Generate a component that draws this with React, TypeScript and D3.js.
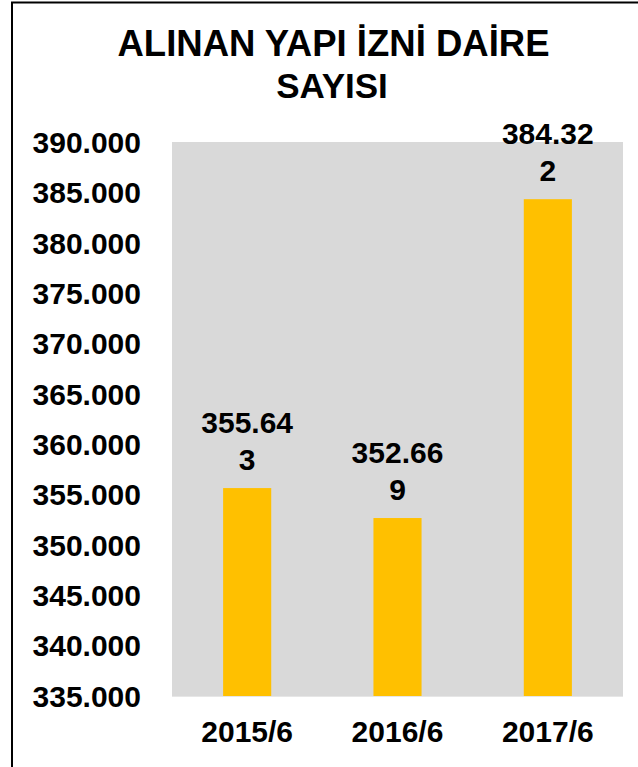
import React from "react";
import * as d3 from "d3";

const categories = ["2015/6", "2016/6", "2017/6"];
const values = [355643, 352669, 384322];
const yTicks = [335000, 340000, 345000, 350000, 355000, 360000, 365000, 370000, 375000, 380000, 385000, 390000];
const titleLines = ["ALINAN YAPI İZNİ DAİRE", "SAYISI"];

const W = 638;
const H = 767;
const FONT = "'Liberation Sans', Arial, Helvetica, sans-serif";

const trLocale = d3.formatLocale({ decimal: ",", thousands: ".", grouping: [3], currency: ["", "₺"] });
const fmt = trLocale.format(",d");

export default function App() {
  const x = d3.scaleBand<string>().domain(categories).range([172, 623]).paddingInner(0.68).paddingOuter(0.34);
  const y = d3.scaleLinear().domain([335000, 390000]).range([696, 142]);

  return (
    <svg width={W} height={H} style={{ position: "absolute", left: 0, top: 0, background: "#fff" }}>
      <rect x={12} y={2.5} width={800} height={900} fill="#fff" stroke="#000" strokeWidth={2} />
      {/* title */}
      <text fontFamily={FONT} fontWeight="bold" textAnchor="middle" fill="#000">
        <tspan x={333.5} y={56} fontSize={36.5}>{titleLines[0]}</tspan>
        <tspan x={332} y={98} fontSize={35}>{titleLines[1]}</tspan>
      </text>
      {/* plot area */}
      <rect x={172} y={142} width={451} height={554} fill="#d9d9d9" />
      <line x1={172} x2={623} y1={696.5} y2={696.5} stroke="#e6e6e6" strokeWidth={1} />
      {/* y ticks */}
      {yTicks.map((t) => (
        <text key={t} x={141} y={y(t)} dy="0.36em" textAnchor="end" fontFamily={FONT} fontWeight="bold" fontSize={30} fill="#000">
          {fmt(t)}
        </text>
      ))}
      {/* bars */}
      {categories.map((c, i) => (
        <rect key={c} x={x(c)} y={y(values[i])} width={x.bandwidth()} height={y(335000) - y(values[i])} fill="#FFC000" />
      ))}
      {/* data labels */}
      {categories.map((c, i) => {
        const s = fmt(values[i]);
        const cx = (x(c) as number) + x.bandwidth() / 2;
        const top = y(values[i]);
        return (
          <text key={c} textAnchor="middle" fontFamily={FONT} fontWeight="bold" fontSize={30} fill="#000">
            <tspan x={cx} y={top - 55}>{s.slice(0, 6)}</tspan>
            <tspan x={cx} y={top - 18}>{s.slice(6)}</tspan>
          </text>
        );
      })}
      {/* x labels */}
      {categories.map((c) => (
        <text key={c} x={(x(c) as number) + x.bandwidth() / 2} y={742} textAnchor="middle" fontFamily={FONT} fontWeight="bold" fontSize={30} fill="#000">
          {c}
        </text>
      ))}
    </svg>
  );
}
